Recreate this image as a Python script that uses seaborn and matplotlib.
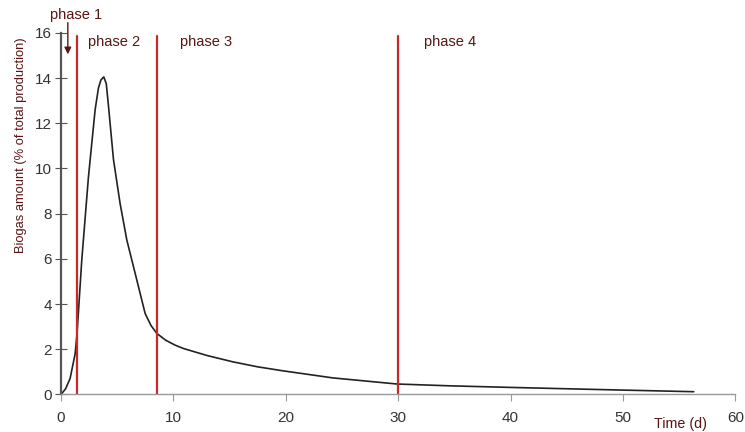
import numpy as np
import pandas as pd
import seaborn as sns
import matplotlib.pyplot as plt

# biogas production curve
time_d = [0.0, 0.4, 0.8, 1.25, 1.42, 1.84, 2.43, 3.03, 3.32, 3.55, 3.8, 4.02,
          4.21, 4.66, 5.25, 5.85, 6.74, 7.48, 8.0, 8.52, 9.3, 10.15, 10.9,
          13.0, 15.3, 17.5, 19.8, 24.2, 29.9, 34.6, 40.0, 45.0, 50.1, 56.3]
biogas = [0.0, 0.25, 0.7, 1.8, 2.7, 5.94, 9.6, 12.6, 13.55, 13.92, 14.05, 13.75,
          12.8, 10.4, 8.45, 6.83, 5.06, 3.58, 3.05, 2.7, 2.4, 2.18, 2.03,
          1.72, 1.44, 1.22, 1.04, 0.73, 0.46, 0.38, 0.31, 0.25, 0.19, 0.12]

phase_bounds = [1.4, 8.5, 30.0]
phase_labels = ["phase 2", "phase 3", "phase 4"]
phase_label_x = [2.4, 10.6, 32.3]

df = pd.DataFrame({"time": time_d, "biogas": biogas})

sns.set_theme(style="ticks")
plt.rcParams["font.family"] = ["Liberation Sans", "DejaVu Sans"]

maroon = "#5a1414"
red = "#c8282a"

fig, ax = plt.subplots(figsize=(7.45, 4.32), dpi=100)
fig.subplots_adjust(left=0.082, right=0.987, bottom=0.087, top=0.924)

sns.lineplot(data=df, x="time", y="biogas", color="#222222", linewidth=1.2,
             ax=ax, sort=False)

for b in phase_bounds:
    ax.axvline(b, ymin=0, ymax=0.99, color=red, linewidth=1.6)

for lab, xpos in zip(phase_labels, phase_label_x):
    ax.text(xpos, 15.6, lab, color=maroon, fontsize=10.5, va="center")

# phase 1 label sits above the axes with an arrow pointing down
ax.text(-1.0, 16.8, "phase 1", color=maroon, fontsize=10.5, va="center",
        clip_on=False)
ax.annotate("", xy=(0.6, 15.05), xytext=(0.6, 16.45), annotation_clip=False,
            arrowprops=dict(arrowstyle="-|>", color=maroon, lw=1.0,
                            shrinkA=0, shrinkB=0, mutation_scale=10))

ax.set_xlim(0, 60)
ax.set_ylim(0, 16)
ax.set_xticks(range(0, 61, 10))
ax.set_yticks(range(0, 17, 2))
ax.tick_params(axis="y", left=True, direction="inout", length=9, width=0.8,
               colors="#555555", labelcolor="#333333", labelsize=11, pad=2)
ax.tick_params(axis="x", bottom=True, direction="out", length=5, width=0.8,
               colors="#999999", labelcolor="#333333", labelsize=11, pad=7)

ax.set_xlabel("")
ax.set_ylabel("Biogas amount (% of total production)", color=maroon,
              fontsize=9.3)
ax.yaxis.set_label_coords(-0.05, 0.69)
ax.text(55.1, -1.3, "Time (d)", color=maroon, fontsize=10.3,
        ha="center", va="center")

sns.despine(ax=ax)
ax.spines["left"].set_color("#555555")
ax.spines["left"].set_linewidth(1.6)
ax.spines["bottom"].set_color("#999999")
ax.spines["bottom"].set_linewidth(1.0)

fig.savefig("out.png", dpi=100)
